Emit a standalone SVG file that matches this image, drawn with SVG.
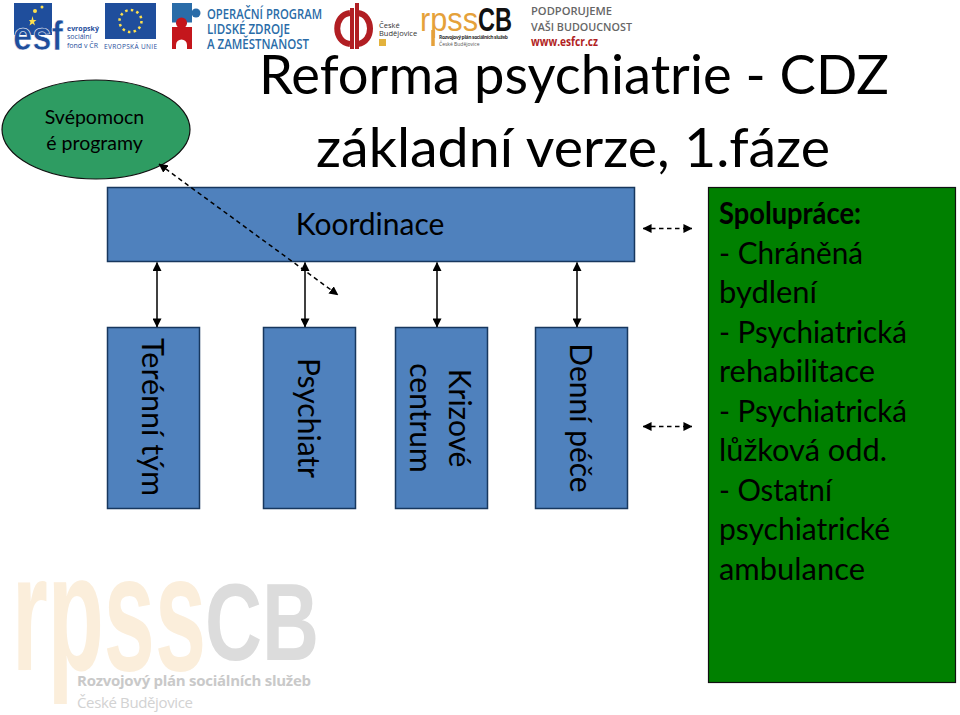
<svg xmlns="http://www.w3.org/2000/svg" width="960" height="715" viewBox="0 0 960 715">
<style>
text{font-family:Lato,"Liberation Sans",sans-serif;fill:#000}
.box{fill:#4f81bd;stroke:#17375e;stroke-width:1.5}
.t{font-size:30px;text-anchor:middle}
.g{font-size:30px}
.c{fill:none;stroke:#000;stroke-width:1.5;marker-start:url(#a);marker-end:url(#a)}
.d{stroke-dasharray:4.5 3.5}
.lg{font-family:"Open Sans","Liberation Sans",sans-serif}
.ls{font-family:"Liberation Sans",sans-serif}
</style>
<defs><marker id="a" viewBox="0 0 10 10" refX="9.500" refY="5" markerWidth="9" markerHeight="9" markerUnits="userSpaceOnUse" orient="auto-start-reverse"><path d="M0 0L10 5L0 10z" fill="#000"/></marker></defs>
<rect width="960" height="715" fill="#fff"/>

<g id="logo-esf">
<path d="M14 3H52V35H14z" fill="#1f4e9c"/>
<path d="M29 20l2.500 0 1-4 1 4h3l-2.500 2 1 3.500-2.500-2-3 2 1-3.500z" fill="#ffe14d"/>
<circle cx="35" cy="11" r="2" fill="#ffe14d"/><circle cx="42" cy="7" r="1.500" fill="#ffe14d"/>
<text class="ls" x="13" y="50" font-size="40" font-weight="700" style="fill:#1f4e9c;stroke:#fff;stroke-width:.6" textLength="50" lengthAdjust="spacingAndGlyphs">esf</text>
<text class="lg" x="67" y="31" font-size="7" font-weight="700" style="fill:#1f4e9c">evropský</text>
<text class="lg" x="67" y="39" font-size="7" style="fill:#1f4e9c">sociální</text>
<text class="lg" x="67" y="48" font-size="7" style="fill:#1f4e9c">fond v ČR</text>
</g>
<g id="logo-eu">
<rect x="105" y="3" width="51" height="36" fill="#1f4e9c"/>
<circle cx="130.500" cy="21" r="11" fill="none" stroke="#ffe14d" stroke-width="2.500" stroke-dasharray="2.500 3.260"/>
<text class="lg" x="104" y="49" font-size="6.500" style="fill:#1f4e9c" textLength="53">EVROPSKÁ UNIE</text>
</g>
<g id="logo-op">
<path d="M172 3H192V24H172z" fill="#2a6ca8"/>
<circle cx="196" cy="13" r="4.500" fill="#2a6ca8"/>
<path d="M172 27H192V49H172z" fill="#c4161c"/>
<circle cx="181.500" cy="23" r="5.500" fill="#c4161c"/>
<path d="M172 24H176M187 24H192" stroke="#fff" stroke-width="3"/>
<path d="M176 49V45a5.500 5.500 0 0 1 11 0V49z" fill="#fff"/>
<g class="lg" font-size="13.500" font-weight="600">
<text class="lg" x="207" y="19" style="fill:#2a6ca8" textLength="115" lengthAdjust="spacingAndGlyphs">OPERAČNÍ PROGRAM</text>
<text class="lg" x="207" y="34" style="fill:#2a6ca8" textLength="83" lengthAdjust="spacingAndGlyphs">LIDSKÉ ZDROJE</text>
<text class="lg" x="207" y="49" style="fill:#2a6ca8" textLength="102" lengthAdjust="spacingAndGlyphs">A ZAMĚSTNANOST</text>
</g>
</g>
<g id="logo-cb">
<path d="M352 8V49M357 3V49" stroke="#b11e23" stroke-width="4" fill="none"/>
<path d="M350 13C333 15 333 42 350 44M358 13C374 15 374 42 358 44" fill="none" stroke="#b11e23" stroke-width="6"/>
<text class="lg" x="379" y="28" font-size="7.500" style="fill:#333">České</text>
<text class="lg" x="379" y="36" font-size="7.500" style="fill:#333">Budějovice</text>
<rect x="379" y="39" width="7" height="7" fill="#e3b23c"/>
</g>
<g id="logo-rpss">
<text class="ls" x="420" y="31" font-size="34" style="fill:#e5a13a" textLength="58" lengthAdjust="spacingAndGlyphs">rpss</text>
<text class="ls" x="478" y="31" font-size="34" font-weight="700" style="fill:#111" textLength="34" lengthAdjust="spacingAndGlyphs">CB</text>
<path d="M433 30V46" stroke="#e5a13a" stroke-width="3.500"/>
<text class="lg" x="439" y="39" font-size="5" font-weight="700" style="fill:#333" textLength="69">Rozvojový plán sociálních služeb</text>
<text class="lg" x="439" y="46" font-size="5" style="fill:#555">České Budějovice</text>
</g>
<g id="logo-podporujeme">
<text class="lg" x="531" y="15" font-size="11.500" font-weight="600" style="fill:#666" textLength="81" lengthAdjust="spacingAndGlyphs">PODPORUJEME</text>
<text class="lg" x="531" y="31" font-size="11.500" font-weight="600" style="fill:#666" textLength="101" lengthAdjust="spacingAndGlyphs">VAŠI BUDOUCNOST</text>
<text class="lg" x="531" y="46" font-size="11.500" font-weight="700" style="fill:#b11e23" textLength="67" lengthAdjust="spacingAndGlyphs">www.esfcr.cz</text>
</g>
<g id="watermark">
<text class="ls" x="12" y="670" font-size="165" font-weight="700" style="fill:#fbeedb" textLength="194" lengthAdjust="spacingAndGlyphs">rpss</text>
<text class="ls" x="205" y="660" font-size="110" font-weight="700" style="fill:#dcdcdc" textLength="114" lengthAdjust="spacingAndGlyphs">CB</text>
<text class="lg" x="77" y="686" font-size="15" font-weight="700" style="fill:#c9c9c9" textLength="234">Rozvojový plán sociálních služeb</text>
<text class="lg" x="77" y="708" font-size="15" style="fill:#d2d2d2" textLength="116">České Budějovice</text>
</g>

<g id="title">
<text x="259" y="94" font-size="54" textLength="630" lengthAdjust="spacingAndGlyphs">Reforma psychiatrie - CDZ</text>
<text x="316" y="167" font-size="54" textLength="514" lengthAdjust="spacingAndGlyphs">základní verze, 1.fáze</text>
</g>

<g id="n-svepomoc">
<ellipse cx="96" cy="129.500" rx="94" ry="49.500" fill="#2e9c62" stroke="#111" stroke-width="1.200"/>
<text x="94.500" y="124" font-size="19.500" text-anchor="middle">Svépomocn</text>
<text x="94.500" y="150" font-size="19.500" text-anchor="middle">é programy</text>
</g>
<g id="n-koordinace">
<rect class="box" x="107.500" y="187.500" width="527" height="74"/>
<text class="t" x="370" y="235">Koordinace</text>
</g>
<g id="n-tym">
<rect class="box" x="107.500" y="327.500" width="92" height="181"/>
<text class="t" transform="translate(142 417) rotate(90)" textLength="158" lengthAdjust="spacingAndGlyphs">Terénní tým</text>
</g>
<g id="n-psychiatr">
<rect class="box" x="263.500" y="327.500" width="92" height="181"/>
<text class="t" transform="translate(298 418) rotate(90)">Psychiatr</text>
</g>
<g id="n-krizove">
<rect class="box" x="395.500" y="327.500" width="92" height="181"/>
<text class="t" transform="translate(449 418) rotate(90)">Krizové</text>
<text class="t" transform="translate(410 418) rotate(90)">centrum</text>
</g>
<g id="n-denni">
<rect class="box" x="535.500" y="327.500" width="92" height="181"/>
<text class="t" transform="translate(570 418) rotate(90)">Denní péče</text>
</g>
<g id="n-spoluprace">
<rect x="708.500" y="187.500" width="247" height="495" fill="#008000" stroke="#111" stroke-width="1.200"/>
<text class="g" x="719" y="224" font-weight="700" textLength="142" lengthAdjust="spacingAndGlyphs">Spolupráce:</text>
<text class="g" x="719" y="264" textLength="144" lengthAdjust="spacingAndGlyphs">- Chráněná</text>
<text class="g" x="719" y="303" textLength="98" lengthAdjust="spacingAndGlyphs">bydlení</text>
<text class="g" x="719" y="343" textLength="188" lengthAdjust="spacingAndGlyphs">- Psychiatrická</text>
<text class="g" x="719" y="382" textLength="156" lengthAdjust="spacingAndGlyphs">rehabilitace</text>
<text class="g" x="719" y="422" textLength="188" lengthAdjust="spacingAndGlyphs">- Psychiatrická</text>
<text class="g" x="719" y="461" textLength="168" lengthAdjust="spacingAndGlyphs">lůžková odd.</text>
<text class="g" x="719" y="501" textLength="113" lengthAdjust="spacingAndGlyphs">- Ostatní</text>
<text class="g" x="719" y="540" textLength="171" lengthAdjust="spacingAndGlyphs">psychiatrické</text>
<text class="g" x="719" y="580" textLength="146" lengthAdjust="spacingAndGlyphs">ambulance</text>
</g>

<g id="connectors">
<path class="c" d="M157 262.500V327"/>
<path class="c" d="M305 262.500V327"/>
<path class="c" d="M437 262.500V327"/>
<path class="c" d="M577 262.500V327"/>
<path class="c d" d="M643 228.500H692"/>
<path class="c d" d="M643 426.500H692"/>
<path class="c d" d="M159 164L338 295"/>
</g>
</svg>
